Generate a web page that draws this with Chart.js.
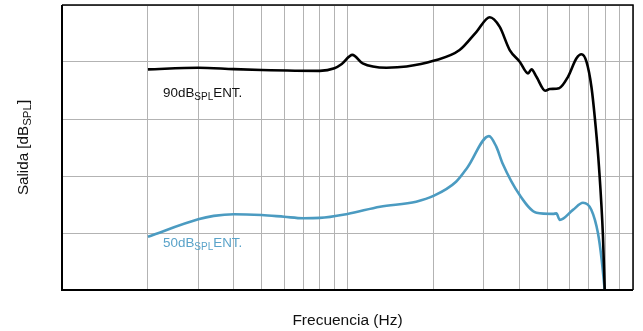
<!DOCTYPE html>
<html>
<head>
<meta charset="utf-8">
<script src="https://cdn.jsdelivr.net/npm/chart.js@4"></script>
<style>
html,body{margin:0;padding:0;background:#fff;}
#wrap{width:643px;height:331px;position:relative;}
</style>
</head>
<body>
<div id="wrap"><canvas id="c" width="643" height="331"></canvas></div>
<script>
// ---- data ----
const freq90 = [200,300,400,500,800,900,955,1040,1130,1370,1610,2000,2470,2830,3150,3410,3700,4010,4290,4410,4590,4930,5110,5510,5920,6340,6600,6870,7150,7400,7600,7850,7960];
const out90  = [77.4,78.0,77.5,77.2,76.9,77.8,79.3,82.5,79.5,78.0,78.4,80.4,84.2,90.6,95.7,92.4,84.2,80.1,76.0,77.4,74.8,69.9,70.5,70.8,74.8,81.3,82.7,80.1,71.3,57.3,43.3,18.7,0];
const freq50 = [200,300,340,400,500,600,700,800,1000,1300,1740,2000,2400,2630,3130,3320,3500,4010,4590,5250,5390,5540,6160,6680,7150,7540,7770,7960];
const out50  = [18.7,24.8,26.0,26.6,26.3,25.7,25.2,25.3,26.7,29.2,31.0,33.0,38.0,43.0,54.0,50.3,44.2,33.3,27.1,26.7,26.9,24.6,28.1,30.6,28.1,19.9,10.5,0];
const xGridTicks = [100,200,300,400,500,600,700,800,900,1000,2000,3000,4000,5000,6000,7000,8000,9000,10000];
const yGridTicks = [0,20,40,60,80,100];
const seriesLabels = [
  [{t:'90dB'},{t:'SPL',sub:true},{t:'ENT.'}],
  [{t:'50dB'},{t:'SPL',sub:true},{t:'ENT.'}]
];
const labelFreq = [226,226];
const labelVal = [67.6,15.0];
const xTitle = 'Frecuencia (Hz)';
const yTitle = [{t:'Salida [dB'},{t:'SPL',sub:true},{t:']'}];

const BLACK = '#000000';
const BLUE = '#4b9bc1';
const FONT = '"Liberation Sans", Arial, Helvetica, sans-serif';

function toPts(xs, ys){ return xs.map((x,i)=>({x:x,y:ys[i]})); }

function drawRich(ctx, parts, x, y, size, subSize, subDy, align){
  let total = 0;
  const widths = parts.map(p=>{
    ctx.font = (p.sub?subSize:size)+'px '+FONT;
    const w = ctx.measureText(p.t).width; total += w; return w;
  });
  let cx = align==='center' ? x - total/2 : x;
  parts.forEach((p,i)=>{
    ctx.font = (p.sub?subSize:size)+'px '+FONT;
    ctx.fillText(p.t, cx, y + (p.sub?subDy:0));
    cx += widths[i];
  });
}

const decor = {
  id:'decor',
  afterDraw(chart){
    const ctx = chart.ctx, a = chart.chartArea, xs = chart.scales.x, ys = chart.scales.y;
    ctx.save();
    // frame
    ctx.strokeStyle = '#000';
    ctx.lineWidth = 2;
    ctx.beginPath();
    ctx.moveTo(a.left, a.top); ctx.lineTo(a.left, a.bottom); ctx.lineTo(a.right, a.bottom);
    ctx.stroke();
    ctx.lineWidth = 1.5;
    ctx.beginPath();
    ctx.moveTo(a.left, a.top); ctx.lineTo(a.right, a.top); ctx.lineTo(a.right, a.bottom);
    ctx.stroke();
    // series labels
    ctx.textBaseline = 'alphabetic';
    const cols = [ '#111111', '#5aa3c9' ];
    seriesLabels.forEach((parts,i)=>{
      ctx.fillStyle = cols[i];
      drawRich(ctx, parts, xs.getPixelForValue(labelFreq[i]), ys.getPixelForValue(labelVal[i]), 13.4, 10, 2.8, 'left');
    });
    // axis titles
    ctx.fillStyle = '#111';
    ctx.font = '15.5px '+FONT;
    ctx.textAlign = 'center';
    ctx.fillText(xTitle, (a.left+a.right)/2, 325);
    ctx.textAlign = 'left';
    ctx.translate(28, (a.top+a.bottom)/2);
    ctx.rotate(-Math.PI/2);
    drawRich(ctx, yTitle, 0, 0, 15.2, 11.5, 2.8, 'center');
    ctx.restore();
  }
};

new Chart(document.getElementById('c'), {
  type:'line',
  data:{
    datasets:[
      {data:toPts(freq90,out90), borderColor:BLACK, borderWidth:2.6, pointRadius:0, cubicInterpolationMode:'monotone', fill:false},
      {data:toPts(freq50,out50), borderColor:BLUE, borderWidth:2.6, pointRadius:0, cubicInterpolationMode:'monotone', fill:false}
    ]
  },
  options:{
    responsive:false,
    animation:false,
    devicePixelRatio:1,
    layout:{padding:{left:0,right:10,top:5,bottom:0}},
    plugins:{legend:{display:false}, tooltip:{enabled:false}},
    scales:{
      x:{
        type:'logarithmic', min:100, max:10000,
        afterBuildTicks(s){ s.ticks = xGridTicks.map(v=>({value:v})); },
        afterFit(s){ s.height = 41; },
        ticks:{display:false},
        grid:{color:'#b3b3b3', lineWidth:1, drawTicks:false},
        border:{display:false}
      },
      y:{
        type:'linear', min:0, max:100,
        afterBuildTicks(s){ s.ticks = yGridTicks.map(v=>({value:v})); },
        afterFit(s){ s.width = 62; },
        ticks:{display:false},
        grid:{color:'#b3b3b3', lineWidth:1, drawTicks:false},
        border:{display:false}
      }
    }
  },
  plugins:[decor]
});
</script>
</body>
</html>
